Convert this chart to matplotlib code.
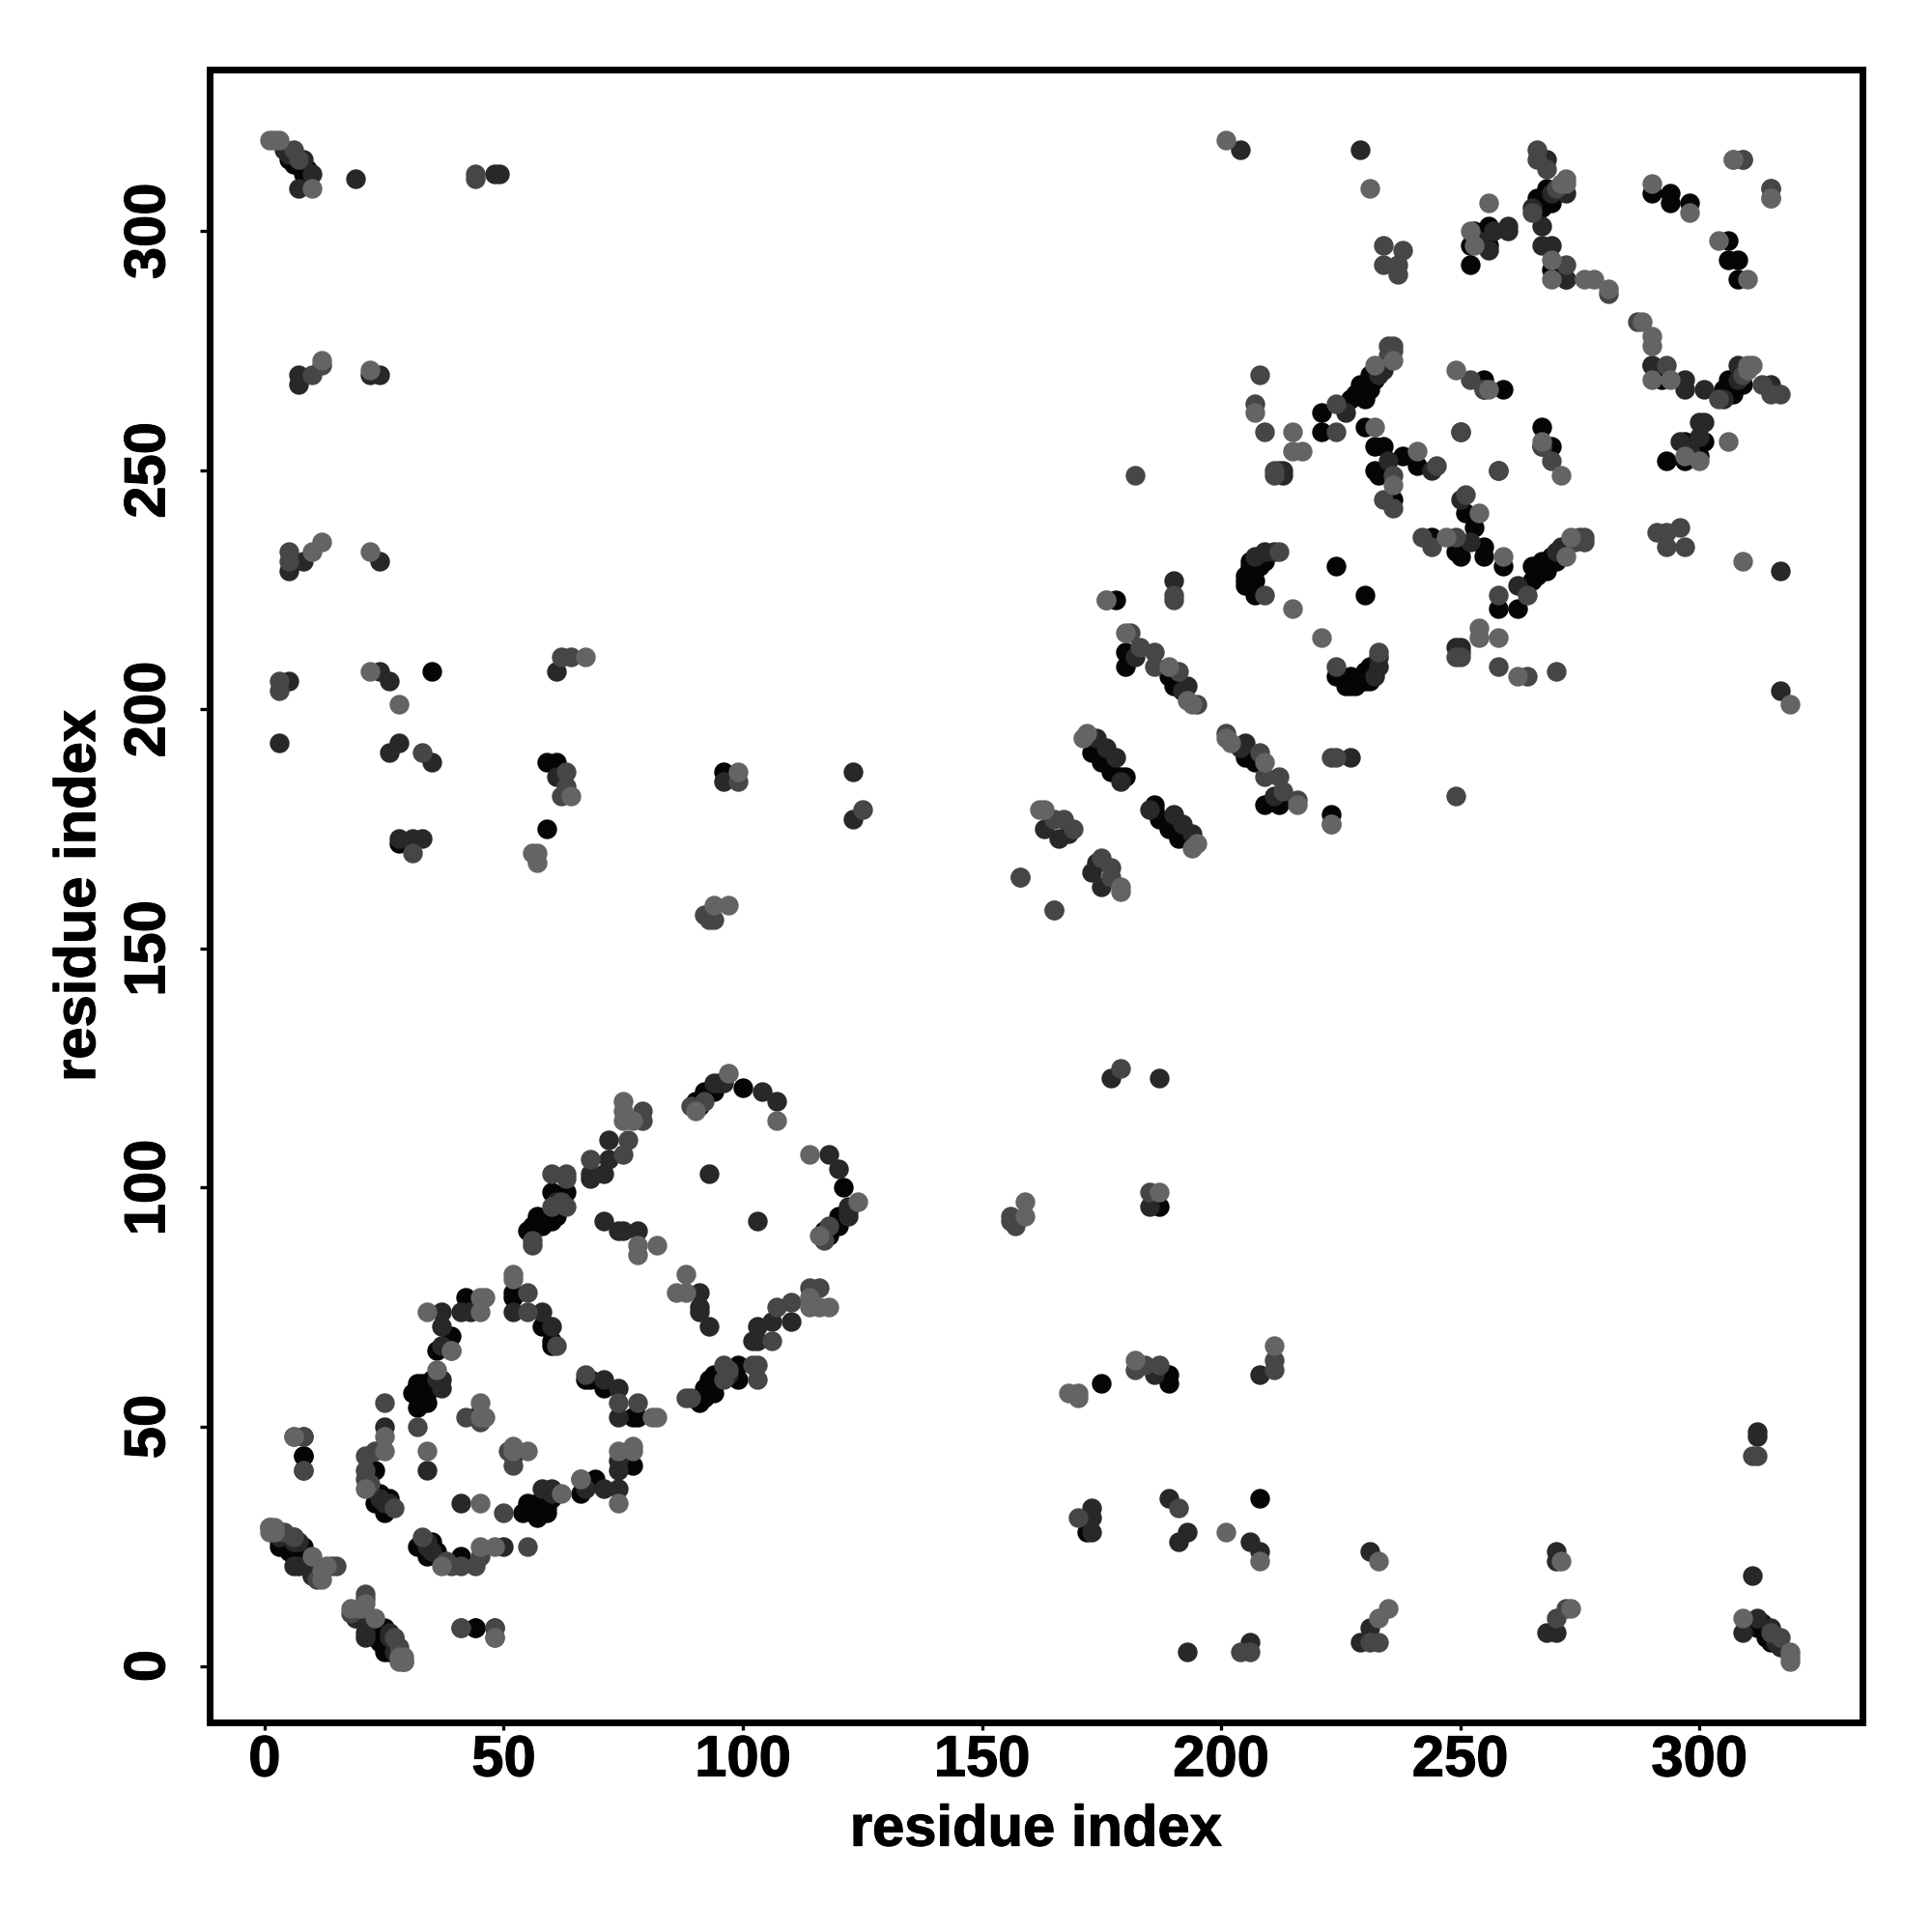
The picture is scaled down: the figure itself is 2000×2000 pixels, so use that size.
import matplotlib
matplotlib.use("Agg")
import matplotlib.pyplot as plt
import matplotlib.patheffects as pe

# contacts (i, j) with i < j, the map is symmetric so the other half is mirrored
black_contacts = [
    (8, 44), (23, 41), (23, 36), (24, 36), (25, 33), (25, 32), (26, 35), (23, 34), (4, 26), (3, 25),
    (5, 24), (8, 25), (7, 22), (31, 57), (32, 54), (32, 59), (33, 55), (33, 59), (34, 55), (34, 57),
    (35, 60), (36, 66), (39, 69), (42, 77), (44, 52), (52, 77), (52, 78), (58, 71), (60, 67), (60, 68),
    (55, 91), (56, 92), (57, 94), (58, 92), (60, 93), (60, 99), (63, 99), (90, 118), (92, 120), (100, 121),
    (9, 313), (5, 315), (6, 314), (8, 312), (35, 208), (59, 189), (61, 189), (59, 175), (96, 187), (28, 172),
    (178, 223), (205, 226), (206, 231), (207, 224), (209, 231), (207, 227), (206, 228), (180, 212), (180, 209),
    (189, 207), (190, 205), (192, 204), (173, 191), (175, 189), (177, 187), (180, 186), (179, 186),
    (221, 262), (221, 258), (227, 265), (229, 268), (231, 270), (230, 265), (231, 267), (230, 259),
    (232, 255), (234, 255), (232, 250), (233, 249), (238, 253), (241, 251), (236, 244), (255, 269),
    (259, 267), (224, 230), (268, 309), (266, 307), (267, 305), (269, 306), (253, 300), (256, 301),
    (252, 297), (256, 297), (252, 293), (290, 308), (294, 308), (294, 306), (298, 306), (269, 292),
    (44, 8), (24, 8), (23, 6), (26, 3),
    (91, 118), (93, 120), (91, 117), (94, 120), (228, 266), (230, 267), (232, 269), (229, 266),
    (205, 228), (206, 230), (208, 230), (208, 231), (205, 227), (267, 307), (268, 308), (59, 93),
    (32, 57), (33, 57), (34, 58), (253, 299), (61, 94),
]
dark_contacts = [
    (25, 50), (24, 35), (25, 34), (26, 34), (34, 41), (37, 58), (37, 60), (37, 71), (37, 74), (41, 74),
    (43, 74), (37, 67), (52, 74), (58, 74), (60, 71), (68, 103), (68, 102), (71, 103), (72, 106), (72, 110),
    (93, 103), (71, 93), (74, 91), (75, 91), (78, 91), (94, 122), (104, 120), (107, 118), (3, 27), (6, 26),
    (7, 26), (10, 19), (6, 21), (10, 22), (19, 10), (4, 317), (5, 316), (8, 315), (10, 312), (7, 309),
    (19, 311), (48, 312), (49, 312), (7, 270), (7, 268), (22, 270), (24, 270), (5, 229), (8, 231),
    (24, 231), (5, 206), (3, 193), (24, 208), (26, 206), (26, 191), (28, 193), (35, 189), (28, 173),
    (31, 173), (33, 173), (61, 208), (61, 186), (96, 185), (123, 187), (123, 177), (204, 317), (229, 317),
    (190, 227), (209, 233), (211, 233), (182, 211), (192, 204), (193, 205), (174, 194), (176, 192), (178, 190),
    (179, 185), (163, 175), (166, 173), (168, 174), (212, 250), (213, 250), (213, 249), (226, 262),
    (234, 271), (233, 270), (235, 252), (244, 250), (255, 267), (268, 315), (272, 308), (267, 301),
    (267, 297), (269, 297), (265, 305), (272, 290), (290, 272), (257, 300), (260, 301), (260, 300),
    (256, 296), (258, 250), (41, 8), (48, 8), (21, 7), (27, 6),
    (95, 122), (96, 122), (233, 271), (234, 272), (207, 232), (269, 308), (61, 97), (254, 298), (36, 60),
]
mid_contacts = [
    (8, 41), (8, 48), (23, 45), (21, 44), (21, 41), (21, 39), (27, 33), (22, 38), (25, 55), (32, 50),
    (39, 66), (60, 96), (63, 96), (60, 103), (63, 103), (63, 102), (68, 106), (75, 107), (76, 110), (79, 116),
    (79, 114), (42, 52), (45, 51), (55, 74), (55, 78), (56, 89), (56, 88), (61, 67), (89, 117), (1, 29),
    (6, 27), (15, 21), (21, 14), (18, 11), (28, 4), (6, 317), (7, 315), (44, 311), (44, 312), (12, 272),
    (10, 270), (5, 231), (3, 206), (3, 204), (33, 191), (31, 170), (62, 211), (64, 211), (63, 187),
    (63, 184), (62, 182), (92, 157), (93, 156), (94, 156), (99, 185), (125, 179), (234, 297), (238, 296),
    (237, 293), (234, 293), (237, 291), (182, 249), (176, 223), (190, 224), (190, 223), (209, 224), (212, 233),
    (181, 216), (183, 213), (186, 212), (186, 209), (191, 208), (195, 201), (158, 165), (165, 158),
    (169, 175), (165, 177), (167, 177), (208, 270), (207, 264), (209, 258), (211, 250), (211, 249),
    (224, 258), (224, 264), (236, 276), (245, 251), (236, 249), (234, 244), (236, 242), (252, 269),
    (255, 267), (250, 258), (266, 317), (266, 315), (268, 313), (265, 304), (272, 293), (281, 287),
    (315, 309), (309, 315), (233, 5), (48, 6),
    (92, 118), (235, 274), (235, 276), (236, 275), (270, 309), (62, 97),
]
light_contacts = [
    (6, 48), (25, 48), (25, 45), (21, 37), (34, 45), (36, 62), (34, 74), (39, 66), (45, 74), (45, 77),
    (46, 77), (45, 55), (45, 52), (46, 52), (52, 82), (52, 81), (75, 118), (75, 116), (75, 114), (77, 114),
    (78, 88), (78, 86), (82, 88), (90, 116), (97, 124), (107, 114), (1, 28), (2, 29), (12, 20), (13, 21),
    (12, 18), (23, 10), (29, 1), (28, 2), (1, 319), (2, 319), (3, 319), (10, 309), (12, 273), (22, 271),
    (10, 233), (12, 235), (22, 233), (22, 208), (28, 201), (67, 211), (64, 182), (56, 170), (57, 170),
    (57, 168), (94, 159), (97, 159), (99, 187), (201, 319), (231, 309), (176, 223), (215, 221), (180, 216),
    (189, 209), (193, 202), (194, 201), (172, 195), (171, 194), (163, 179), (162, 179), (207, 262),
    (215, 258), (215, 254), (217, 254), (232, 272), (236, 273), (232, 259), (241, 254), (236, 247),
    (249, 271), (256, 267), (272, 311), (272, 310), (269, 294), (269, 290), (276, 290), (278, 290),
    (281, 288), (256, 306), (252, 300), (253, 297), (290, 310), (298, 304), (307, 315), (315, 307),
    (271, 310),
]
tick_values = [0, 50, 100, 150, 200, 250, 300]

fig = plt.figure(figsize=(20, 20), dpi=100, facecolor="white")
ax = fig.add_axes([217 / 2000, 1 - 1783 / 2000, 1711 / 2000, 1711.5 / 2000])

# darkest first, the lighter dots sit on top in the reference
groups = [(black_contacts, "#050505"), (dark_contacts, "#282828"),
          (mid_contacts, "#464646"), (light_contacts, "#646464")]
for contacts, colour in groups:
    i = [c[0] for c in contacts]
    j = [c[1] for c in contacts]
    ax.scatter(i + j, j + i, s=215, c=colour, linewidths=0, zorder=2)

ax.set_xlim(-11.5, 334.1)
ax.set_ylim(-11.8, 333.9)
ax.set_xticks(tick_values)
ax.set_yticks(tick_values)

font = {"family": ["Liberation Sans"], "weight": "bold"}
ax.set_xticklabels([str(v) for v in tick_values], fontsize=43, **font)
ax.set_yticklabels([str(v) for v in tick_values], fontsize=43, rotation=90, va="center", **font)
ax.tick_params(axis="x", length=6, width=2.4, pad=3, color="black")
ax.tick_params(axis="y", length=7, width=2.4, pad=18, color="black")
for spine in ax.spines.values():
    spine.set_linewidth(5)

ax.set_xlabel("residue index", fontsize=43, va="center", **font)
ax.set_ylabel("residue index", fontsize=43, va="center", **font)
ax.xaxis.set_label_coords(0.5, -0.0655)
ax.yaxis.set_label_coords(-0.0785, 0.5)

# reference text is a touch heavier than Liberation bold
stroke = [pe.withStroke(linewidth=0.8, foreground="black")]
for label in ax.get_xticklabels() + ax.get_yticklabels() + [ax.xaxis.label, ax.yaxis.label]:
    label.set_path_effects(stroke)

fig.savefig("out.png", dpi=100, facecolor="white")
